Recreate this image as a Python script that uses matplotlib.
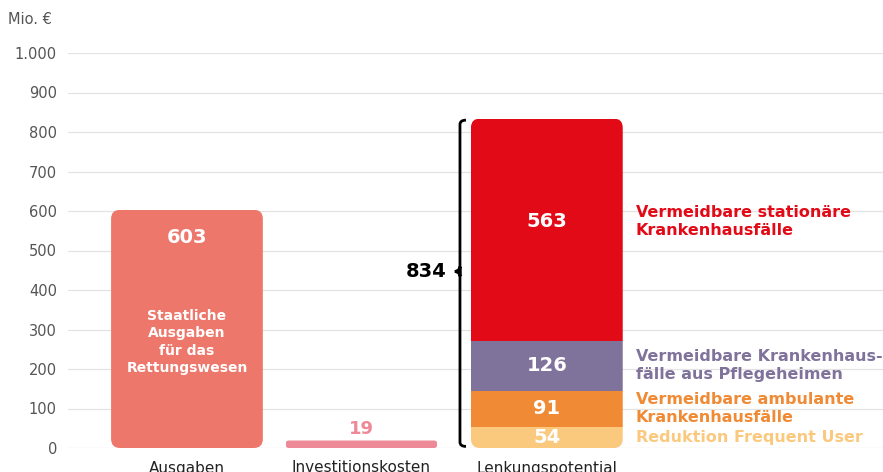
import matplotlib
matplotlib.use("Agg")
import matplotlib.pyplot as plt
from matplotlib.patches import FancyBboxPatch
from matplotlib.path import Path
from matplotlib.patches import PathPatch

# === DATA ===
categories = ["Ausgaben", "Investitionskosten", "Lenkungspotential"]
ausgaben = 603
invest = 19
stack_values = [54, 91, 126, 563]
stack_labels = ["Reduktion Frequent User",
                "Vermeidbare ambulante\nKrankenhausfälle",
                "Vermeidbare Krankenhaus-\nfälle aus Pflegeheimen",
                "Vermeidbare stationäre\nKrankenhausfälle"]
stack_colors = ["#FBC97E", "#F08A34", "#7F739C", "#E20A17"]
yticks = [0, 100, 200, 300, 400, 500, 600, 700, 800, 900, 1000]
ytick_labels = ["0", "100", "200", "300", "400", "500", "600", "700", "800", "900", "1.000"]

FONT = "DejaVu Sans"
plt.rcParams["font.family"] = FONT

fig = plt.figure(figsize=(8.83, 4.72), dpi=100)
ax = fig.add_axes([68 / 883, 24 / 472, 1 - 68 / 883, (448 - 53) / 472])

xs = [0, 1, 2.063]
width = 0.87
ax.set_xlim(-0.682, 3.99)
ax.set_ylim(0, 1000)

# aspect: y units per x unit for equal pixel rounding
px_x = 1 / 174.5
px_y = 1000 / 395
aspect = px_y / px_x


def rounded_clip(x0, y0, w, h, r_px):
    patch = FancyBboxPatch((x0, y0), w, h,
                           boxstyle=f"round,pad=0,rounding_size={r_px * px_x}",
                           mutation_aspect=aspect, facecolor="none",
                           edgecolor="none", transform=ax.transData)
    ax.add_patch(patch)
    return patch


# grid
for t in yticks:
    ax.axhline(t, color="#e3e3e3" if t else "#d9d9d9", lw=0.9, zorder=0)

# Ausgaben bar
b = ax.bar(xs[0], ausgaben, width=width, color="#EE776B", zorder=2)
clip = rounded_clip(xs[0] - width / 2, 0, width, ausgaben, 9)
for r in b:
    r.set_clip_path(clip)
ax.text(xs[0], 534, str(ausgaben), color="white", fontsize=14, fontweight="bold",
        ha="center", va="center", zorder=3)
ax.text(xs[0], 268, "Staatliche\nAusgaben\nfür das\nRettungswesen", color="white",
        fontsize=10, fontweight="bold", ha="center", va="center",
        linespacing=1.3, zorder=3)

# Investitionskosten bar
b = ax.bar(xs[1], invest, width=width, color="#EE8A98", zorder=2)
clip = rounded_clip(xs[1] - width / 2, 0, width, invest, 3.5)
for r in b:
    r.set_clip_path(clip)
ax.text(xs[1], 48, str(invest), color="#EE8A98", fontsize=13, fontweight="bold",
        ha="center", va="center")

# Lenkungspotential stack
total = sum(stack_values)
clip = rounded_clip(xs[2] - width / 2, 0, width, total, 9)
bottom = 0
for i, (val, col, lab) in enumerate(zip(stack_values, stack_colors, stack_labels)):
    b = ax.bar(xs[2], val, width=width, bottom=bottom, color=col, zorder=2)
    for r in b:
        r.set_clip_path(clip)
    mid = bottom + val / 2
    if i == len(stack_values) - 1:
        mid += 20  # top label sits a bit higher
    ax.text(xs[2], mid, str(val), color="white", fontsize=14, fontweight="bold",
            ha="center", va="center", zorder=3)
    ax.text(2.573, mid, lab, color=col, fontsize=11.5, fontweight="bold",
            ha="left", va="center", linespacing=1.25, zorder=3)
    bottom += val

# brace
bx = 1.565
tip = total / 2 + 30
hw = 6 * px_x
verts = [(bx + hw, total - 4), (bx, total - 4), (bx, total - 15),
         (bx, tip - 12), (bx, tip - 3), (bx - 5 * px_x, tip),
         (bx, tip + 3), (bx, tip + 12),
         (bx, 15), (bx, 4), (bx + hw, 4)]
codes = [Path.MOVETO, Path.CURVE3, Path.CURVE3,
         Path.LINETO, Path.CURVE3, Path.CURVE3,
         Path.CURVE3, Path.CURVE3,
         Path.LINETO, Path.CURVE3, Path.CURVE3]
ax.add_patch(PathPatch(Path(verts, codes), facecolor="none", edgecolor="black",
                       lw=2, zorder=3))
ax.text(1.49, tip, str(total), color="black", fontsize=14, fontweight="bold",
        ha="right", va="center")

# axes styling
ax.set_yticks(yticks)
ax.set_yticklabels(ytick_labels)
ax.set_xticks(xs)
ax.set_xticklabels(categories)
ax.tick_params(axis="y", length=0, pad=8, labelsize=10.5, labelcolor="#555555")
ax.tick_params(axis="x", length=0, pad=9, labelsize=11, labelcolor="#222222")
for s in ax.spines.values():
    s.set_visible(False)

fig.text(8 / 883, 1 - 20 / 472, "Mio. €", fontsize=10.5, color="#555555",
         ha="left", va="center")

plt.savefig("out.png", dpi=100)
